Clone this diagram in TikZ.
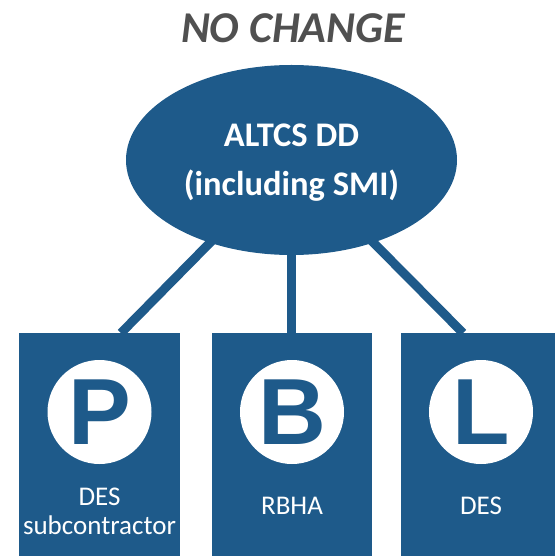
\documentclass[tikz,border=0pt]{standalone}
\usepackage{fontspec}
\setmainfont{Carlito}
\newfontfamily\letterfont{Liberation Sans}
\usetikzlibrary{shapes.geometric}
\definecolor{deepblue}{HTML}{1E5A8A}
\definecolor{titlegray}{HTML}{505050}

\begin{document}
\begin{tikzpicture}
  [x=1bp,y=-1bp,
   plan/.style={fill=deepblue,minimum width=160bp,minimum height=260bp,anchor=north,inner sep=0pt},
   badge/.style={circle,fill=white,minimum size=104bp,inner sep=0pt,text=deepblue,
     font=\letterfont\bfseries\fontsize{94bp}{94bp}\selectfont},
   caption/.style={text=white,align=center,anchor=base,inner sep=0pt,
     font=\fontsize{27bp}{29bp}\selectfont},
   link/.style={draw=deepblue,line width=9bp,shorten <=-4bp}]
  \useasboundingbox (0,0) rectangle (555,556);

  \node[text=titlegray,anchor=base,inner sep=0pt,font=\bfseries\itshape\fontsize{44bp}{44bp}\selectfont]
    (title) at (293,42.5) {NO CHANGE};

  \node[plan,minimum width=161bp] (pbox) at (99.5,333) {};
  \node[plan] (bbox) at (292,333) {};
  \node[plan] (lbox) at (481,333) {};

  \node[badge] (pc) at (99.5,412) {P};
  \node[badge] (bc) at (292,412) {B};
  \node[badge] (lc) at (481,412) {L};

  \node[caption] (pt) at (99.5,534) {DES\\subcontractor};
  \node[caption] (bt) at (292,514) {RBHA};
  \node[caption] (lt) at (481,514) {DES};

  \node[ellipse,fill=deepblue,minimum width=331bp,minimum height=190bp,inner sep=0pt]
    (altcs) at (291.5,160) {};
  \node[text=white,align=center,anchor=base,inner sep=0pt,
    font=\bfseries\fontsize{34.5bp}{49bp}\selectfont]
    (altcstext) at (291.5,196) {ALTCS DD\\(including SMI)};

  \coordinate (pin) at (121,333);
  \coordinate (bin) at (291.5,333);
  \coordinate (lin) at (463,333);

  \foreach \to in {pin,bin,lin}
    \draw[link] (altcs) -- (\to);
\end{tikzpicture}
\end{document}
